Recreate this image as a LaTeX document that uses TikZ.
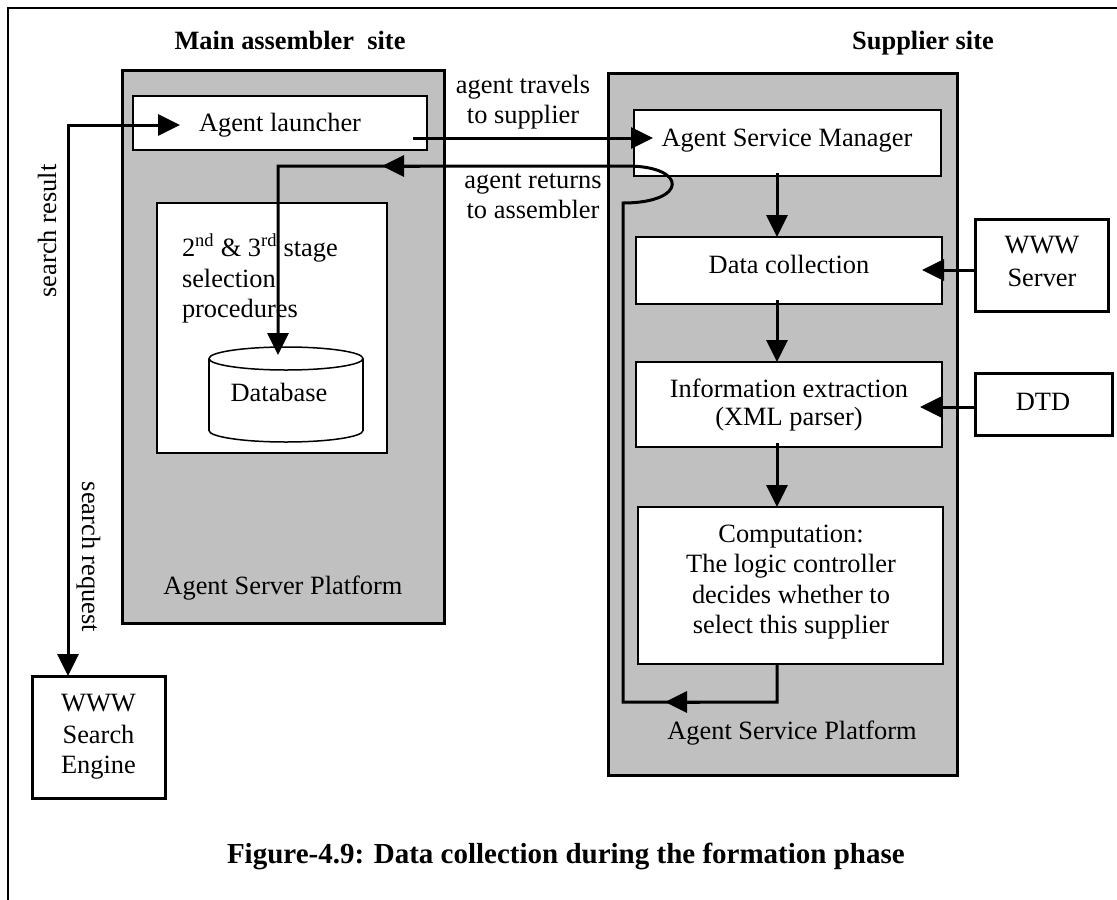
\documentclass[tikz,border=0pt]{standalone}
\usepackage{fontspec}
\setmainfont{Liberation Serif}
\usetikzlibrary{arrows.meta,calc}
\definecolor{platgray}{RGB}{192,192,192}
\begin{document}
\begin{tikzpicture}[x=1pt,y=-1pt,
  platform/.style={draw,line width=3pt,fill=platgray,inner sep=0,outer sep=0},
  inbox/.style={draw,line width=1.5pt,fill=white,inner sep=0,outer sep=0},
  extbox/.style={draw,line width=3pt,fill=white,inner sep=0,outer sep=0},
  conn/.style={line width=3pt},
  btri/.tip={Triangle[length=22pt,width=21pt]},
  arr/.style={conn,-btri},
  txt/.style={font=\fontsize{26.4}{30}\selectfont,inner sep=0,outer sep=0,anchor=base},
  btxt/.style={txt,font=\fontsize{26.4}{30}\selectfont\bfseries},
]
\useasboundingbox (0,0) rectangle (1117,900);
% outer frame
\draw[line width=1.3pt] (8,900) -- (8,8) -- (1117,8);
% titles
\node[btxt] (t1) at (290,49) {Main assembler\ \ site};
\node[btxt] (t2) at (923,49) {Supplier site};
% platforms
\node[platform,minimum width=322pt,minimum height=553pt] (lp) at (283,346.5) {};
\node[platform,minimum width=349pt,minimum height=702pt] (rp) at (782.5,424) {};
% inner boxes
\node[inbox,minimum width=294pt,minimum height=54pt] (launch) at (280,123) {};
\node[inbox,minimum width=230pt,minimum height=250pt] (stage) at (272,328) {};
\node[inbox,minimum width=307pt,minimum height=66pt] (asm) at (787.5,143) {};
\node[inbox,minimum width=306pt,minimum height=67pt] (dc) at (789,270.5) {};
\node[inbox,minimum width=306pt,minimum height=85pt] (ie) at (789,404.5) {};
\node[inbox,minimum width=305pt,minimum height=157pt] (comp) at (790.5,585.5) {};
% external boxes
\node[extbox,minimum width=133pt,minimum height=92pt] (srv) at (1041.5,265) {};
\node[extbox,minimum width=137pt,minimum height=62pt] (dtd) at (1043.5,404) {};
\node[extbox,minimum width=133pt,minimum height=122pt] (wse) at (98.5,737) {};
% database cylinder
\filldraw[fill=white,draw=black,line width=1.5pt] (286,430.5) ellipse[x radius=77,y radius=11.5];
\fill[white] (209,358.5) rectangle (363,430.5);
\draw[line width=1.5pt] (209,358.5) -- (209,430.5) (363,358.5) -- (363,430.5);
\filldraw[fill=white,draw=black,line width=1.5pt] (286,358.5) ellipse[x radius=77,y radius=11.5];
\node[txt] (dbt) at (279,401) {Database};
% coordinates
\coordinate (lin) at (180,125);
\coordinate (sc) at (68,125);
\coordinate (tr0) at (413,138);
\coordinate (lp1) at (777,702);
\coordinate (lp2) at (623,702);
\coordinate (lp3) at (623,203);
\coordinate (lp4) at (627,166);
\coordinate (lp5) at (278,166);
\coordinate (dbtop) at (278,355);
\coordinate (s1) at (975,270);
\coordinate (d1) at (975,407);
% connectors
\draw[conn,btri-btri] (lin) -- (sc) -- (wse.north -| sc);
\draw[arr] (tr0) -- ([xshift=19pt]asm.west |- tr0);
\draw[arr] (comp.south -| lp1) -- (lp1) -- (lp2) -- (lp3) .. controls (688,203) and (688,166) .. (lp4) -- (lp5) -- (dbtop);
\draw[arr] (700,702) -- (665,702);
\draw[arr] (420,166) -- (382,166);
\draw[arr] ([yshift=3pt]asm.south -| lp1) -- (dc.north -| lp1);
\draw[arr] ([yshift=4pt]dc.south -| lp1) -- (ie.north -| lp1);
\draw[arr] ([yshift=4pt]ie.south -| lp1) -- (comp.north -| lp1);
\draw[arr] (srv.west |- s1) -- ([xshift=-20pt]dc.east |- s1);
\draw[arr] (dtd.west |- d1) -- ([xshift=-22pt]ie.east |- d1);
% texts
\node[txt] (lt) at (280,131) {Agent launcher};
\node[txt] (at1) at (523,93) {agent travels};
\node[txt] (at2) at (523,123) {to supplier};
\node[txt] (ar1) at (533,188) {agent returns};
\node[txt] (ar2) at (533,218) {to assembler};
\node[txt] (asmt) at (787,146) {Agent Service Manager};
\node[txt] (dct) at (789,273) {Data collection};
\node[txt] (iet1) at (789,397) {Information extraction};
\node[txt] (iet2) at (789,425) {(XML parser)};
\node[txt] (ct1) at (791,542) {Computation:};
\node[txt] (ct2) at (791,572) {The logic controller};
\node[txt] (ct3) at (791,603) {decides whether to};
\node[txt] (ct4) at (791,633) {select this supplier};
\node[txt] (aspt) at (792,739) {Agent Service Platform};
\node[txt] (asvt) at (283,594) {Agent Server Platform};
\node[txt,anchor=base west] (st1) at (182,256) {2\textsuperscript{nd} \& 3\textsuperscript{rd} stage};
\node[txt,anchor=base west] (st2) at (182,287) {selection};
\node[txt,anchor=base west] (st3) at (182,317) {procedures};
\node[txt] (srv1) at (1042,253) {WWW};
\node[txt] (srv2) at (1042,286) {Server};
\node[txt] (dtdt) at (1043,410) {DTD};
\node[txt] (wse1) at (98.5,711) {WWW};
\node[txt] (wse2) at (98.5,743) {Search};
\node[txt] (wse3) at (98.5,773) {Engine};
\node[txt,rotate=90] (sres) at (56,231) {search result};
\node[txt,rotate=-90] (sreq) at (82,557) {search request};
\node[txt,font=\fontsize{29}{33}\selectfont\bfseries,anchor=base west] (cap) at (227,863) {Figure-4.9: Data collection during the formation phase};
\end{tikzpicture}
\end{document}
